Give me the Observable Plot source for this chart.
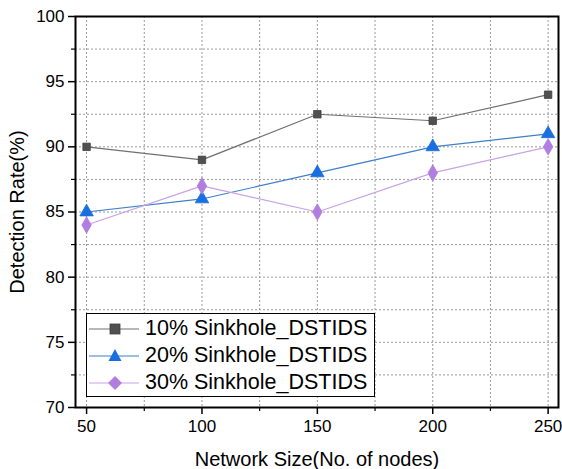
<!DOCTYPE html>
<html><head><meta charset="utf-8">
<script src="https://cdn.jsdelivr.net/npm/d3@7"></script>
<script src="https://cdn.jsdelivr.net/npm/@observablehq/plot@0.6"></script>
<style>
body{margin:0;background:#fff;font-family:"Liberation Sans",Arial,sans-serif;}
#wrap{position:relative;width:562px;height:469px;}
#legend{position:absolute;left:86px;top:313px;width:289px;height:84px;border:1px solid #000;background:#fff;box-sizing:border-box;padding-top:1px;}
.row{display:flex;align-items:center;height:27px;font-size:21.5px;color:#000;white-space:nowrap;}
.row svg{margin-left:2px;margin-right:6px;flex:none;}
</style>
</head><body>
<div id="wrap"></div>
<script>
const sizes = [50, 100, 150, 200, 250];
const s10 = [90, 89, 92.5, 92, 94];
const s20 = [85, 86, 88, 90, 91];
const s30 = [84, 87, 85, 88, 90];
const seriesNames = ["10% Sinkhole_DSTIDS", "20% Sinkhole_DSTIDS", "30% Sinkhole_DSTIDS"];
const yMajor = [70, 75, 80, 85, 90, 95, 100];
const yMinor = [72.5, 77.5, 82.5, 87.5, 92.5, 97.5];
const xMajor = [50, 100, 150, 200, 250];
const xMinor = [75, 125, 175, 225];
const xTitle = "Network Size(No. of nodes)";
const yTitle = "Detection Rate(%)";

const styles = [
  {symbol: "square", fill: "#505050", stroke: "#404040", line: "#707070", r: 4.2},
  {symbol: "triangle", fill: "#1a6fe0", stroke: "#1a6fe0", line: "#3d7fc8", r: 5},
  {symbol: "diamond", fill: "#b07ee0", stroke: "#b07ee0", line: "#c8a2e6", r: 5}
];
const allSeries = [s10, s20, s30];
const data = allSeries.flatMap((vals, i) => vals.map((v, j) => ({x: sizes[j], y: v, s: seriesNames[i], i})));

const gridYVals = yMajor.slice(1, -1).concat(yMinor);
const gridXVals = xMajor.concat(xMinor);
const gridStyle = {stroke: "#9a9a9a", strokeWidth: 1, strokeDasharray: "2,2"};
const marks = [
  Plot.ruleY(gridYVals, {y: d => d, ...gridStyle}),
  Plot.ruleX(gridXVals, {x: d => d, ...gridStyle}),
];
allSeries.forEach((vals, i) => {
  const d = data.filter(e => e.i === i);
  marks.push(Plot.line(d, {x: "x", y: "y", stroke: styles[i].line, strokeWidth: 1.2}));
});
allSeries.forEach((vals, i) => {
  const d = data.filter(e => e.i === i);
  marks.push(Plot.dot(d, {x: "x", y: "y", symbol: () => styles[i].symbol, fill: styles[i].fill, stroke: styles[i].stroke, strokeWidth: 0.8, r: styles[i].r}));
});
marks.push(
  Plot.frame({stroke: "#000", strokeWidth: 2}),
  Plot.axisY(yMajor, {tickSize: 7, tickPadding: 4, fontSize: 17, label: null, stroke: "#000", strokeWidth: 1.5}),
  Plot.axisY(yMinor, {tickSize: 4, text: null, label: null, strokeWidth: 1.2}),
  Plot.axisX(xMajor, {tickSize: 7, tickPadding: 5, fontSize: 17, label: null, strokeWidth: 1.5}),
  Plot.axisX(xMinor, {tickSize: 4, text: null, label: null, strokeWidth: 1.2}),
  Plot.axisX([], {label: xTitle, labelArrow: "none", labelAnchor: "center", labelOffset: 58, fontSize: 20, tickSize: 0}),
  Plot.axisY([], {label: yTitle, labelArrow: "none", labelAnchor: "center", labelOffset: 66, fontSize: 20, tickSize: 0})
);

const chart = Plot.plot({
  width: 562, height: 469,
  marginLeft: 75, marginRight: 4, marginTop: 16, marginBottom: 62,
  style: {fontFamily: "'Liberation Sans', Arial, sans-serif", color: "#000", background: "#fff"},
  x: {domain: [45.2, 254.5]},
  y: {domain: [70, 100]},
  symbol: {type: "identity"},
  marks
});
const wrap = document.getElementById("wrap");
wrap.appendChild(chart);

const leg = document.createElement("div");
leg.id = "legend";
seriesNames.forEach((name, i) => {
  const st = styles[i];
  const row = document.createElement("div");
  row.className = "row";
  let marker = "";
  if (i === 0) marker = `<rect x="21" y="5" width="10" height="10" fill="${st.fill}" stroke="${st.stroke}" stroke-width="0.8"/>`;
  if (i === 1) marker = `<path d="M26,3 L32.5,15 L19.5,15 Z" fill="${st.fill}"/>`;
  if (i === 2) marker = `<path d="M26,3 L33,10 L26,17 L19,10 Z" fill="${st.fill}"/>`;
  row.innerHTML = `<svg width="50" height="20"><line x1="0" y1="10" x2="50" y2="10" stroke="${st.line}" stroke-width="1.2"/>${marker}</svg><span>${name}</span>`;
  leg.appendChild(row);
});
wrap.appendChild(leg);
</script>
</body></html>
